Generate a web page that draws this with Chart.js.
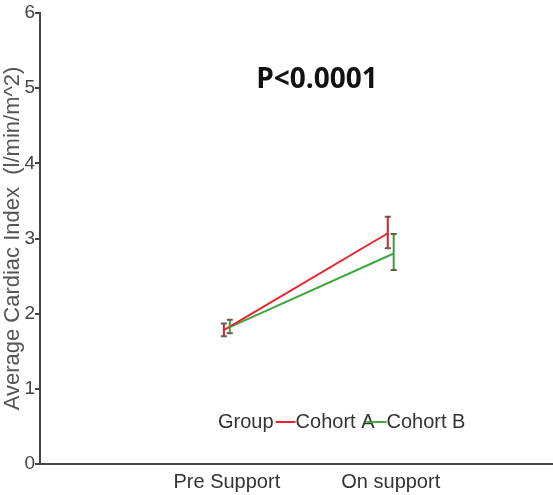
<!DOCTYPE html>
<html>
<head>
<meta charset="utf-8">
<script src="https://cdn.jsdelivr.net/npm/chart.js@4"></script>
<style>
  html, body { margin: 0; padding: 0; background: #fff; }
  #wrap { width: 553px; height: 495px; }
</style>
</head>
<body>
<div id="wrap"><canvas id="cardiacChart"></canvas></div>
<script>
const categories = ["Pre Support", "On support"];
const seriesNames = ["Cohort A", "Cohort B"];

// mean values per timepoint
const cohortA = [1.78, 3.07];
const cohortB = [1.82, 2.80];

// error bars (low / high)
const cohortALow = [1.70, 2.87];
const cohortAHigh = [1.87, 3.29];
const cohortBLow = [1.74, 2.58];
const cohortBHigh = [1.92, 3.06];

const yTicks = [0, 1, 2, 3, 4, 5, 6];
const pValueText = "P<0.0001";

const red = "#e8242c";
const green = "#3fa83f";
const dodge = 0.018;   // small horizontal offset between the two groups
const fontFam = "'Liberation Sans', Arial, sans-serif";

function toPoints(vals, shift) {
  return vals.map((v, i) => ({ x: i + shift, y: v }));
}

/* ===============================
   ERROR BARS
================================ */
const errorBars = {
  id: "errorBars",
  afterDatasetsDraw(chart) {
    const { ctx, scales } = chart;
    const bars = [
      { low: cohortALow, high: cohortAHigh, shift: -dodge, color: "#d0232c" },
      { low: cohortBLow, high: cohortBHigh, shift: dodge, color: "#3f9a3f" }
    ];
    ctx.save();
    bars.forEach(b => {
      b.low.forEach((lo, i) => {
        const x = scales.x.getPixelForValue(i + b.shift);
        const y1 = scales.y.getPixelForValue(lo);
        const y2 = scales.y.getPixelForValue(b.high[i]);
        ctx.strokeStyle = b.color;
        ctx.lineWidth = 2;
        ctx.beginPath();
        ctx.moveTo(x, y1);
        ctx.lineTo(x, y2);
        ctx.stroke();
        ctx.strokeStyle = "#6b5a45";
        ctx.beginPath();
        ctx.moveTo(x - 3, y1); ctx.lineTo(x + 3, y1);
        ctx.moveTo(x - 3, y2); ctx.lineTo(x + 3, y2);
        ctx.stroke();
      });
    });
    ctx.restore();
  }
};

/* ===============================
   P VALUE + LEGEND
================================ */
const annotations = {
  id: "annotations",
  afterDraw(chart) {
    const { ctx } = chart;
    ctx.save();
    ctx.fillStyle = "#111";
    ctx.font = "bold 28px 'Open Sans', sans-serif";
    ctx.textAlign = "center";
    ctx.textBaseline = "middle";
    ctx.fillText(pValueText, 317, 80);

    // legend row
    ctx.font = "20px " + fontFam;
    ctx.textAlign = "left";
    let x = 218;
    const y = 422;
    ctx.fillStyle = "#333";
    ctx.fillText("Group", x, y);
    x += ctx.measureText("Group").width + 2;
    const colors = [red, green];
    seriesNames.forEach((name, i) => {
      ctx.strokeStyle = colors[i];
      ctx.lineWidth = 2;
      ctx.beginPath();
      ctx.moveTo(x, y);
      ctx.lineTo(x + 20, y);
      ctx.stroke();
      x += 20;
      ctx.fillStyle = "#333";
      ctx.fillText(name, x, y);
      x += ctx.measureText(name).width - 8;
    });
    ctx.restore();
  }
};

const ctx = document.getElementById("cardiacChart");
new Chart(ctx, {
  type: "line",
  data: {
    datasets: [
      {
        label: seriesNames[0],
        data: toPoints(cohortA, -dodge),
        borderColor: red,
        borderWidth: 2,
        pointRadius: 0,
        fill: false
      },
      {
        label: seriesNames[1],
        data: toPoints(cohortB, dodge),
        borderColor: green,
        borderWidth: 2,
        pointRadius: 0,
        fill: false
      }
    ]
  },
  options: {
    responsive: true,
    maintainAspectRatio: false,
    animation: false,
    layout: { padding: { top: 13, right: 0, left: 0, bottom: 0 } },
    plugins: {
      legend: { display: false },
      tooltip: { enabled: false }
    },
    scales: {
      x: {
        type: "linear",
        min: -1.14,
        max: 1.99,
        afterBuildTicks(axis) {
          axis.ticks = categories.map((c, i) => ({ value: i }));
        },
        afterFit(axis) { axis.height = 31; },
        ticks: {
          callback: (v) => categories[v],
          color: "#333",
          font: { size: 20, family: fontFam },
          padding: 6,
          maxRotation: 0
        },
        grid: { display: false, drawTicks: false },
        border: { color: "#444", width: 2 }
      },
      y: {
        min: 0,
        max: 6,
        afterBuildTicks(axis) {
          axis.ticks = yTicks.map(v => ({ value: v }));
        },
        afterFit(axis) { axis.width = 40; },
        ticks: {
          color: "#444",
          font: { size: 19, family: fontFam },
          padding: 0
        },
        grid: {
          drawOnChartArea: false,
          drawTicks: true,
          tickLength: 5,
          color: "#444",
          lineWidth: 2
        },
        border: { color: "#444", width: 2 },
        title: {
          display: true,
          text: "Average Cardiac Index  (l/min/m^2)",
          color: "#555",
          font: { size: 22, family: fontFam },
          padding: { top: 0, bottom: 0 }
        }
      }
    }
  },
  plugins: [errorBars, annotations]
});
</script>
</body>
</html>
